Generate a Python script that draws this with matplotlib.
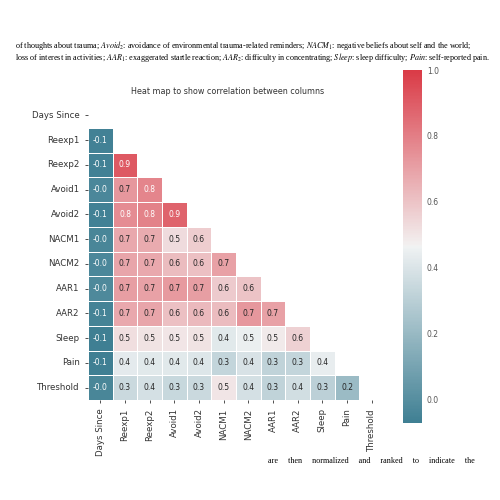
import numpy as np
import matplotlib
matplotlib.use("Agg")
import matplotlib.pyplot as plt
import seaborn as sns

# column names of the correlation matrix
labels = ["Days Since", "Reexp1", "Reexp2", "Avoid1", "Avoid2", "NACM1",
          "NACM2", "AAR1", "AAR2", "Sleep", "Pain", "Threshold"]

# lower triangle, row by row (row i has i values)
lower_rows = [
    [],
    [-0.06],
    [-0.06, 0.91],
    [-0.03, 0.73, 0.78],
    [-0.06, 0.76, 0.79, 0.88],
    [-0.04, 0.68, 0.67, 0.53, 0.57],
    [-0.03, 0.69, 0.68, 0.62, 0.61, 0.70],
    [-0.02, 0.71, 0.70, 0.72, 0.71, 0.58, 0.60],
    [-0.05, 0.68, 0.69, 0.61, 0.63, 0.62, 0.73, 0.70],
    [-0.07, 0.52, 0.51, 0.50, 0.51, 0.42, 0.45, 0.49, 0.56],
    [-0.07, 0.43, 0.42, 0.42, 0.41, 0.33, 0.39, 0.32, 0.33, 0.44],
    [-0.04, 0.35, 0.38, 0.34, 0.35, 0.50, 0.38, 0.32, 0.37, 0.31, 0.21],
]

n = len(labels)
corr = np.eye(n)
for i, row in enumerate(lower_rows):
    for j, v in enumerate(row):
        corr[i, j] = v
        corr[j, i] = v

mask = np.triu(np.ones_like(corr, dtype=bool))

plt.rcParams["mathtext.fontset"] = "stix"
fig = plt.figure(figsize=(5, 5), dpi=100)

ax = fig.add_axes([0.176, 0.2, 0.592, 0.594])
cax = fig.add_axes([0.806, 0.154, 0.038, 0.706])

cmap = sns.diverging_palette(220, 10, as_cmap=True)
sns.heatmap(corr, mask=mask, cmap=cmap, vmin=-0.07, vmax=1.0,
            annot=True, fmt=".1f", annot_kws={"size": 5.5},
            linewidths=0.5, linecolor="white",
            xticklabels=labels, yticklabels=labels,
            ax=ax, cbar_ax=cax)

ax.tick_params(axis="both", labelsize=6.2, length=2.5, width=0.6,
               colors="#333333")
ax.set_xticklabels(labels, rotation=90)
ax.set_yticklabels(labels, rotation=0)

cax.tick_params(labelsize=5.5, length=0, colors="#555555")
cax.set_yticks([0.0, 0.2, 0.4, 0.6, 0.8, 1.0])

fig.text(0.456, 0.816, "Heat map to show correlation between columns",
         ha="center", va="center", fontsize=5.8, color="#333333")

# surrounding page text
serif = {"family": "Liberation Serif", "fontsize": 5.85, "color": "black"}
fig.text(0.03, 0.91,
         r"of thoughts about trauma; $\mathit{Avoid}_2$: avoidance of environmental "
         r"trauma-related reminders; $\mathit{NACM}_1$: negative beliefs about self "
         r"and the world;", va="center", **serif)
fig.text(0.03, 0.885,
         r"loss of interest in activities; $\mathit{AAR}_1$: exaggerated startle "
         r"reaction; $\mathit{AAR}_2$: difficulty in concentrating; $\mathit{Sleep}$: "
         r"sleep difficulty; $\mathit{Pain}$: self-reported pain.", va="center", **serif)
fig.text(0.536, 0.078,
         "are     then     normalized     and     ranked     to     indicate     the",
         va="center", **serif)

fig.savefig("out.png", dpi=100)
